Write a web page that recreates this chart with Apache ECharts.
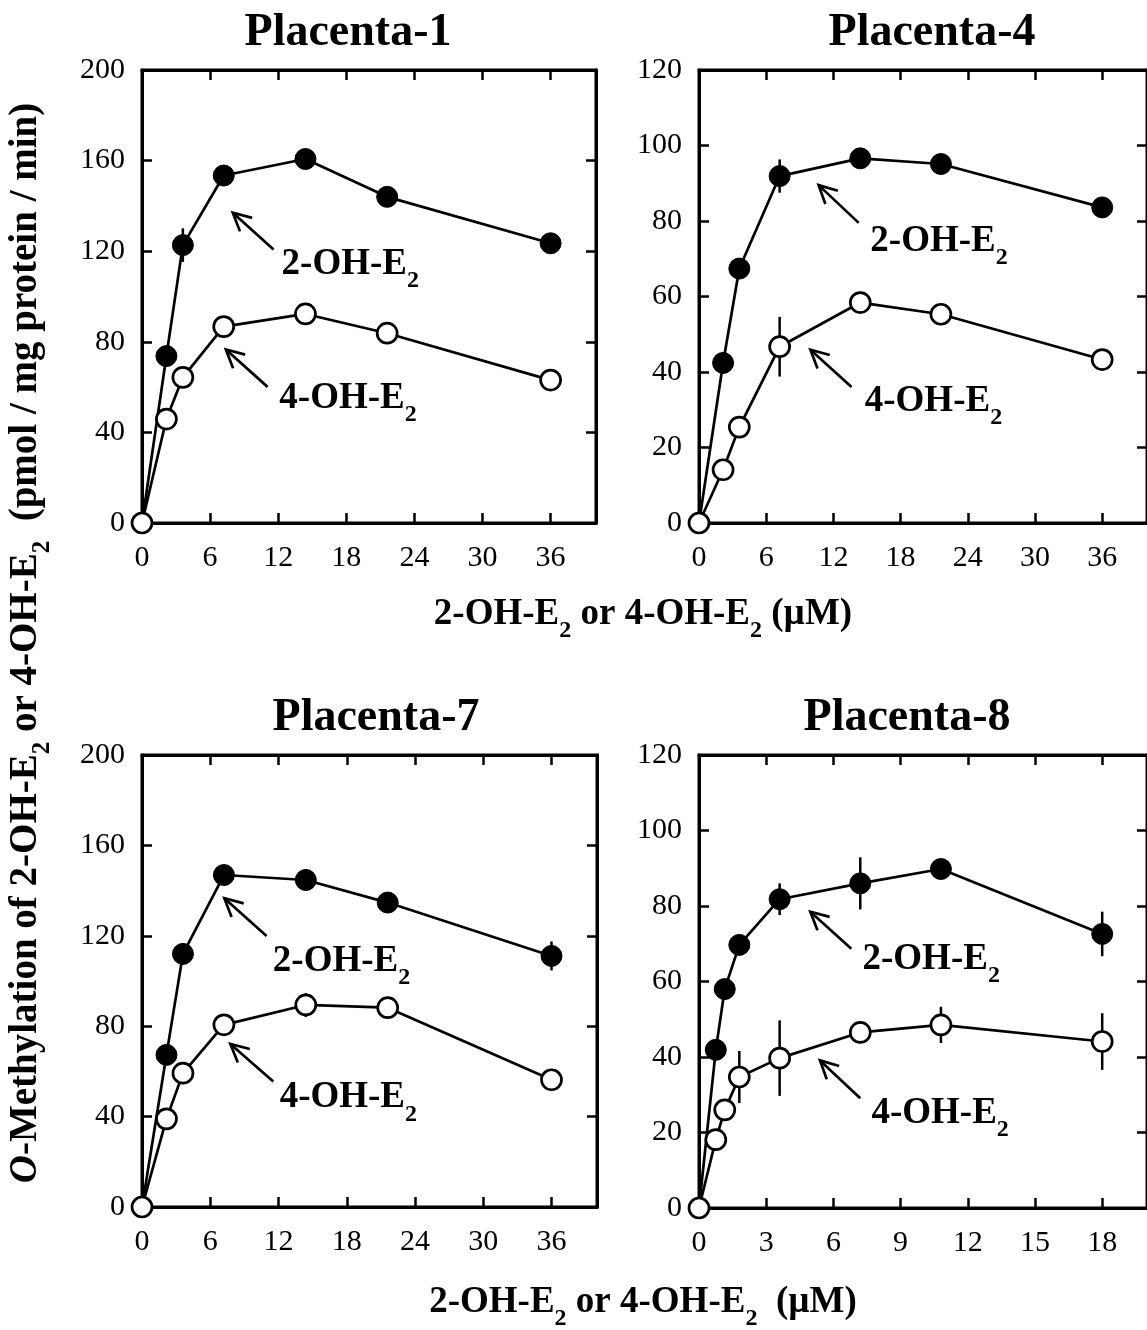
<!DOCTYPE html>
<html><head><meta charset="utf-8">
<script src="https://cdn.jsdelivr.net/npm/echarts@6/dist/echarts.min.js"></script>
<style>html,body{margin:0;padding:0;background:#fff}#c{width:1147px;height:1330px}</style>
</head><body><div id="c"></div>
<script>
// ---------------- data ----------------
const panelTitles = ['Placenta-1', 'Placenta-4', 'Placenta-7', 'Placenta-8'];
const dose36 = [0, 2.15, 3.6, 7.2, 14.4, 21.6, 36];
const dose18 = [0, 0.75, 1.15, 1.8, 3.6, 7.2, 10.8, 18];

const p1_2OH = [0, 73.7, 122.7, 153.4, 160.7, 144.0, 123.5];
const p1_4OH = [0, 45.9, 64.3, 86.7, 92.3, 83.8, 63.1];
const p4_2OH = [0, 42.4, 67.4, 91.9, 96.6, 95.1, 83.6];
const p4_4OH = [0, 14.1, 25.4, 46.7, 58.4, 55.3, 43.3];
const p7_2OH = [0, 67.3, 112.0, 146.9, 144.7, 134.7, 111.1];
const p7_4OH = [0, 39.0, 59.2, 80.6, 89.4, 88.2, 56.3];
const p8_2OH = [0, 41.9, 58.0, 69.7, 81.8, 86.0, 89.8, 72.6];
const p8_4OH = [0, 18.1, 26.0, 34.7, 39.7, 46.5, 48.5, 44.1];

// SD (error bar half-length), 0 = not visible
const p1_2OH_sd = [0, 0, 7.4, 0, 0, 0, 0];
const p1_4OH_sd = [0, 0, 0, 0, 0, 0, 0];
const p4_2OH_sd = [0, 0, 0, 4.4, 0, 0, 0];
const p4_4OH_sd = [0, 0, 0, 7.9, 0, 0, 0];
const p7_2OH_sd = [0, 0, 0, 0, 0, 0, 6.4];
const p7_4OH_sd = [0, 0, 0, 0, 5.3, 0, 0];
const p8_2OH_sd = [0, 0, 0, 0, 4.2, 6.9, 0, 5.9];
const p8_4OH_sd = [0, 0, 0, 6.9, 10.0, 0, 4.8, 7.5];

const xTicks36 = [0, 6, 12, 18, 24, 30, 36];
const xTicks18 = [0, 3, 6, 9, 12, 15, 18];
const yTicks200 = [0, 40, 80, 120, 160, 200];
const yTicks120 = [0, 20, 40, 60, 80, 100, 120];

// ---------------- layout / styles ----------------
const F = "'Liberation Serif','Times New Roman',serif";
const panels = [
  {title: panelTitles[0], x: dose36, a: p1_2OH, b: p1_4OH, ea: p1_2OH_sd, eb: p1_4OH_sd, xt: xTicks36, xMax: 40, yt: yTicks200,
   grid: {left: 142, top: 70, width: 454, height: 453}, titlePos: [348, 33]},
  {title: panelTitles[1], x: dose36, a: p4_2OH, b: p4_4OH, ea: p4_2OH_sd, eb: p4_4OH_sd, xt: xTicks36, xMax: 40, yt: yTicks120,
   grid: {left: 699, top: 70, width: 453, height: 453}, titlePos: [932, 33]},
  {title: panelTitles[2], x: dose36, a: p7_2OH, b: p7_4OH, ea: p7_2OH_sd, eb: p7_4OH_sd, xt: xTicks36, xMax: 40, yt: yTicks200,
   grid: {left: 142, top: 755, width: 455, height: 452}, titlePos: [376, 718]},
  {title: panelTitles[3], x: dose18, a: p8_2OH, b: p8_4OH, ea: p8_2OH_sd, eb: p8_4OH_sd, xt: xTicks18, xMax: 20, yt: yTicks120,
   grid: {left: 699, top: 755, width: 453, height: 453}, titlePos: [907, 718]}
];
// annotation arrows, in data coordinates of each panel: tail, head, label (left, baseline)
const annotations = [
  [{tail: [11.59, 120.8], head: [8.0, 137.0], label: [12.3, 111.0], n: '2'},
   {tail: [11.06, 60.1], head: [7.39, 76.6], label: [12.1, 52.0], n: '4'}],
  [{tail: [14.26, 79.5], head: [10.68, 89.5], label: [15.3, 72.7], n: '2'},
   {tail: [13.62, 36.0], head: [9.95, 45.9], label: [14.8, 30.3], n: '4'}],
  [{tail: [10.95, 119.9], head: [7.24, 136.6], label: [11.5, 105.6], n: '2'},
   {tail: [11.54, 55.5], head: [7.77, 72.1], label: [12.1, 45.2], n: '4'}],
  [{tail: [6.8, 68.7], head: [4.97, 78.5], label: [7.3, 63.9], n: '2'},
   {tail: [7.2, 29.1], head: [5.4, 39.1], label: [7.7, 23.3], n: '4'}]
];

function richStyles(size, sub, lh) {
  return {
    m: {fontSize: size, fontWeight: 'bold', fontFamily: F, color: '#000', lineHeight: lh, verticalAlign: 'top'},
    i: {fontSize: size, fontWeight: 'bold', fontStyle: 'italic', fontFamily: F, color: '#000', lineHeight: lh, verticalAlign: 'top'},
    s: {fontSize: sub, fontWeight: 'bold', fontFamily: F, color: '#000', lineHeight: sub, verticalAlign: 'bottom'}
  };
}

const grids = [], xAxes = [], yAxes = [], series = [];
const axisLineStyle = {color: '#000', width: 3};
const tickStyle = {color: '#000', width: 2.5};
const labelStyle = {fontSize: 30, fontFamily: F, color: '#000'};

panels.forEach((p, i) => {
  grids.push(Object.assign({show: true, borderColor: '#000', borderWidth: 3, containLabel: false}, p.grid));
  const yMax = p.yt[p.yt.length - 1];
  const yInt = p.yt[1] - p.yt[0];
  xAxes.push({type: 'value', gridIndex: i, min: 0, max: p.xMax, position: 'bottom',
    axisLine: {show: true, onZero: false, lineStyle: axisLineStyle},
    axisTick: {show: true, inside: true, length: 10, lineStyle: tickStyle, customValues: p.xt},
    axisLabel: Object.assign({show: true, margin: 20, customValues: p.xt}, labelStyle),
    splitLine: {show: false}});
  xAxes.push({type: 'value', gridIndex: i, min: 0, max: p.xMax, position: 'top',
    axisLine: {show: true, onZero: false, lineStyle: axisLineStyle},
    axisTick: {show: true, inside: true, length: 10, lineStyle: tickStyle, customValues: p.xt},
    axisLabel: {show: false}, splitLine: {show: false}});
  yAxes.push({type: 'value', gridIndex: i, min: 0, max: yMax, interval: yInt, position: 'left',
    axisLine: {show: true, onZero: false, lineStyle: axisLineStyle},
    axisTick: {show: true, inside: true, length: 10, lineStyle: tickStyle},
    axisLabel: Object.assign({show: true, margin: 17}, labelStyle),
    splitLine: {show: false}});
  yAxes.push({type: 'value', gridIndex: i, min: 0, max: yMax, interval: yInt, position: 'right',
    axisLine: {show: true, onZero: false, lineStyle: axisLineStyle},
    axisTick: {show: true, inside: true, length: 10, lineStyle: tickStyle},
    axisLabel: {show: false}, splitLine: {show: false}});

  const errData = [];
  [[p.a, p.ea], [p.b, p.eb]].forEach(([vals, sds]) => {
    vals.forEach((v, k) => { if (sds[k] > 0) errData.push([p.x[k], v, sds[k]]); });
  });
  series.push({type: 'custom', xAxisIndex: 2 * i, yAxisIndex: 2 * i, z: 1, clip: false,
    renderItem: (params, api) => {
      const x = api.value(0), m = api.value(1), e = api.value(2);
      const a = api.coord([x, m - e]), b = api.coord([x, m + e]);
      return {type: 'line', shape: {x1: a[0], y1: a[1], x2: b[0], y2: b[1]},
        style: {stroke: '#000', lineWidth: 2.5}};
    },
    data: errData});
  series.push({type: 'line', name: '2-OH-E2', xAxisIndex: 2 * i, yAxisIndex: 2 * i, z: 2, clip: false,
    data: p.x.map((x, k) => [x, p.a[k]]), symbol: 'circle', symbolSize: 21, showAllSymbol: true,
    lineStyle: {color: '#000', width: 2.7}, itemStyle: {color: '#000', borderColor: '#000', borderWidth: 1}});
  series.push({type: 'line', name: '4-OH-E2', xAxisIndex: 2 * i, yAxisIndex: 2 * i, z: 3, clip: false,
    data: p.x.map((x, k) => [x, p.b[k]]), symbol: 'circle', symbolSize: 20, showAllSymbol: true,
    lineStyle: {color: '#000', width: 2.7}, itemStyle: {color: '#fff', borderColor: '#000', borderWidth: 2.7}});
});

const graphics = [];
panels.forEach(p => {
  graphics.push({type: 'text', x: p.titlePos[0], y: p.titlePos[1], z: 10,
    style: {text: p.title, font: 'bold 46px ' + F, fill: '#000', textAlign: 'center', textVerticalAlign: 'middle'}});
});
// x-axis titles
[[643, 619], [643, 1307]].forEach((pos, k) => {
  graphics.push({type: 'text', x: pos[0], y: pos[1], z: 10,
    style: {text: k === 0 ? '{m|2-OH-E}{s|2}{m| or 4-OH-E}{s|2}{m| (µM)}' : '{m|2-OH-E}{s|2}{m| or 4-OH-E}{s|2}{m|  (µM)}',
      rich: richStyles(37, 24, 47), textAlign: 'center', textVerticalAlign: 'middle'}});
});
// y-axis title
graphics.push({type: 'text', x: 31, y: 643, rotation: Math.PI / 2, z: 10,
  style: {text: '{i|O}{m|-Methylation of 2-OH-E}{s|2}{m| or 4-OH-E}{s|2}{m|  (pmol / mg protein / min)}',
    rich: richStyles(39, 25, 49), textAlign: 'center', textVerticalAlign: 'middle'}});

const chart = echarts.init(document.getElementById('c'), null, {renderer: 'canvas'});
chart.setOption({animation: false, backgroundColor: '#fff', grid: grids, xAxis: xAxes, yAxis: yAxes, series: series, graphic: graphics});

// annotations (arrows + labels) positioned through the axes' scales
annotations.forEach((list, i) => {
  list.forEach(an => {
    const finder = {xAxisIndex: 2 * i, yAxisIndex: 2 * i};
    const t = chart.convertToPixel(finder, an.tail);
    const h = chart.convertToPixel(finder, an.head);
    const l = chart.convertToPixel(finder, an.label);
    const dx = t[0] - h[0], dy = t[1] - h[1];
    const len = Math.hypot(dx, dy), ux = dx / len, uy = dy / len;
    const ang = 27 * Math.PI / 180, al = 20;
    const rot = (s) => [h[0] + al * (ux * Math.cos(s) - uy * Math.sin(s)), h[1] + al * (ux * Math.sin(s) + uy * Math.cos(s))];
    graphics.push({type: 'line', z: 9, shape: {x1: t[0], y1: t[1], x2: h[0], y2: h[1]}, style: {stroke: '#000', lineWidth: 2.7}});
    graphics.push({type: 'polyline', z: 9, shape: {points: [rot(ang), h, rot(-ang)]}, style: {stroke: '#000', lineWidth: 2.7, fill: null}});
    graphics.push({type: 'text', x: l[0], y: l[1] - 2, z: 10,
      style: {text: '{m|' + an.n + '-OH-E}{s|2}', rich: richStyles(37, 24, 47), textAlign: 'left', textVerticalAlign: 'middle'}});
  });
});
chart.setOption({graphic: graphics});
</script></body></html>
